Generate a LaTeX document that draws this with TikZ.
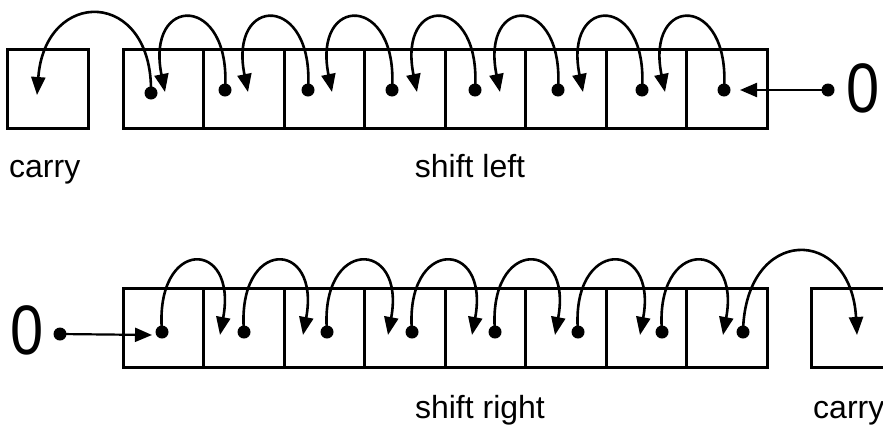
\documentclass[tikz,border=0pt]{standalone}
\usepackage{fontspec}
\usepackage{graphicx}
\setmainfont{Liberation Sans}
\usetikzlibrary{arrows.meta}
\begin{document}
\begin{tikzpicture}[x=1pt,y=-1pt,
  cell/.style={draw,line width=3pt,minimum width=80.5pt,minimum height=79pt,inner sep=0pt},
  hop/.style={line width=2.6pt,-{Triangle[length=18pt,width=14pt]}},
  feed/.style={line width=2.2pt,-{Triangle[length=17pt,width=14pt]}},
  lbl/.style={font=\fontsize{32}{38}\selectfont,inner sep=0pt},
  zero/.style={font=\fontsize{70}{80}\selectfont,inner sep=0pt}]
\useasboundingbox (0,0) rectangle (883,426);
% boxes
\node[cell] (tc) at (48,88.5) {};
\foreach \i in {1,...,8} {
  \node[cell] (t\i) at ({163.25+80.5*(\i-1)},88.5) {};
  \node[cell] (b\i) at ({163.25+80.5*(\i-1)},327.5) {};
}
\node[cell] (bc) at (852,327.5) {};
% top dots and tips
\foreach \n/\x/\y in {1/151/93,2/225/90,3/308/90,4/392/90,5/475/90,6/558/90,7/642/90,8/724/90}
  \coordinate (td\n) at (\x,\y);
\foreach \n/\x/\y in {0/37/95,1/165/92,2/248/92,3/332/92,4/417/92,5/500/92,6/583/92,7/665/92,8/740/90}
  \coordinate (tt\n) at (\x,\y);
\foreach \n in {1,...,8} \fill (td\n) circle (6.5pt);
\draw[hop] (td1) .. controls +(2,-105) and +(8,-108) .. (tt0);
\foreach \n [evaluate=\n as \m using int(\n-1)] in {2,...,8}
  \draw[hop] (td\n) .. controls +(7,-97) and +(-20,-98) .. (tt\m);
\coordinate (tz) at (828,90);
\fill (tz) circle (6.5pt);
\draw[feed] (tz) -- (tt8);
\node[zero] (z1) at (863,88) {\scalebox{0.85}[1]{0}};
% bottom dots and tips
\foreach \n/\x in {1/162,2/244,3/327,4/412,5/495,6/578,7/662,8/743}
  \coordinate (bd\n) at (\x,332);
\foreach \n/\x in {1/152,2/220,3/303,4/388,5/472,6/555,7/640,8/723,9/857}
  \coordinate (bt\n) at (\x,335);
\foreach \n in {1,...,8} \fill (bd\n) circle (6.5pt);
\foreach \n [evaluate=\n as \m using int(\n+1)] in {1,...,7}
  \draw[hop] (bd\n) .. controls +(-8,-95) and +(18,-97) .. (bt\m);
\draw[hop] (bd8) .. controls +(2,-107) and +(-6,-110) .. (bt9);
\coordinate (bz) at (60,334);
\fill (bz) circle (6.5pt);
\draw[feed] (bz) -- (bt1);
\node[zero] (z2) at (27.5,330) {\scalebox{0.85}[1]{0}};
% labels
\node[lbl,anchor=base west] (l1) at (9,177) {carry};
\node[lbl,anchor=base] (l2) at (470,177) {shift left};
\node[lbl,anchor=base] (l3) at (480,418) {shift right};
\node[lbl,anchor=base west] (l4) at (813,418) {carry};
\end{tikzpicture}
\end{document}
